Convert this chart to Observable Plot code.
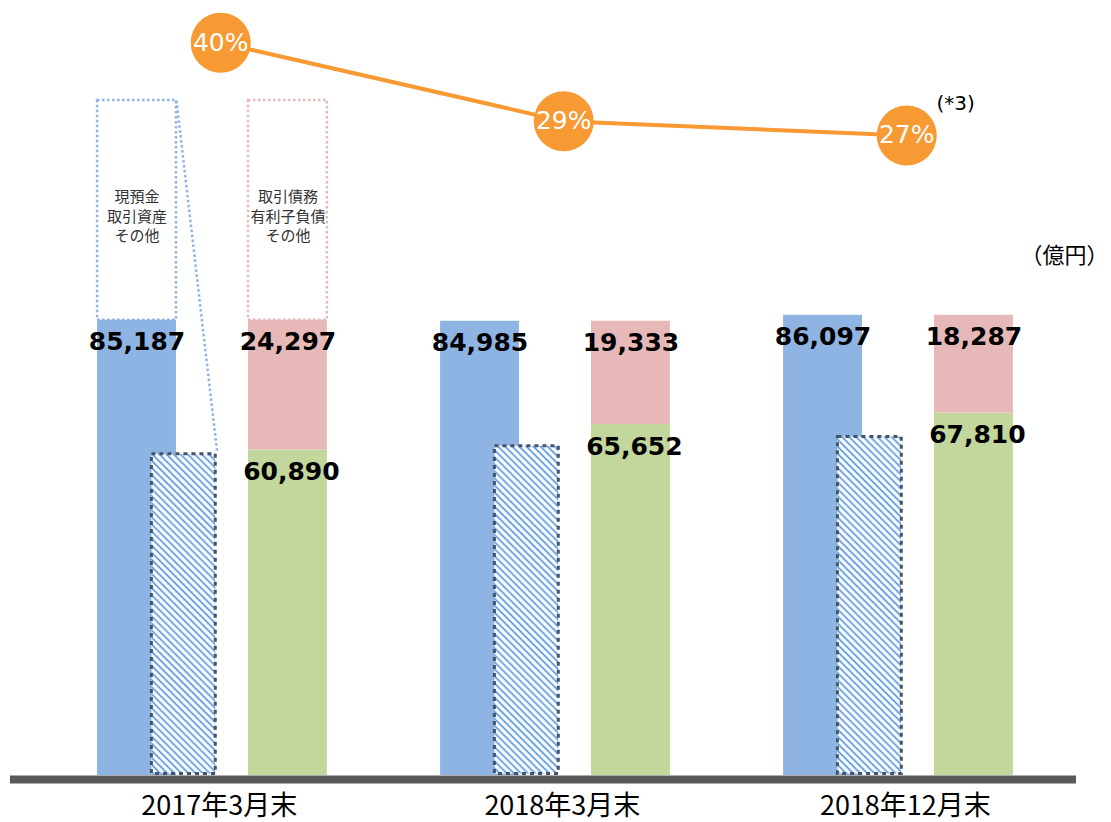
<!DOCTYPE html>
<html>
<head>
<meta charset="utf-8">
<script src="https://cdn.jsdelivr.net/npm/d3@7"></script>
<script src="https://cdn.jsdelivr.net/npm/@observablehq/plot@0.6"></script>
<style>
  html, body { margin: 0; padding: 0; background: #fff; }
  #wrap { position: relative; width: 1111px; height: 822px; overflow: hidden; }
  #wrap svg { position: absolute; left: 0; top: 0; overflow: visible; }
</style>
</head>
<body>
<div id="wrap"></div>
<script>
// ---- data ----
const periods = ["2017年3月末", "2018年3月末", "2018年12月末"];
const assets = [85187, 84985, 86097];          // 資産合計 (blue)
const hatched = [60400, 61900, 63600];         // hatched breakdown bar (unlabelled, estimated)
const payables = [24297, 19333, 18287];        // 取引債務・有利子負債その他 (pink)
const equity = [60890, 65652, 67810];          // green
const ratios = [40, 29, 27];                   // orange line (%)
const ratioLabels = ["40%", "29%", "27%"];
const assetNote = "現預金\n取引資産\nその他";
const liabNote = "取引債務\n有利子負債\nその他";
const noteTop = 126300;                        // top of the dotted legend boxes
const unitLabel = "（億円）";
const footnote = "(*3)";
const fmt = d3.format(",");

// ---- layout (group-relative offsets, in group units) ----
const BLUE = [-0.329, -0.099];
const HATCH = [-0.175, 0.020];
const LIAB = [0.111, 0.341];
const LINE_OFF = 0.03;
const LABEL_OFF = 0.026;

const rows = periods.map((p, i) => ({
  i, period: p, assets: assets[i], hatched: hatched[i],
  payables: payables[i], equity: equity[i], total: payables[i] + equity[i],
  ratio: ratios[i], ratioLabel: ratioLabels[i]
}));
const first = rows.slice(0, 1);

const xDomain = [-0.612, 2.627];
const jp = "'Noto Sans CJK JP', 'Noto Sans', sans-serif";
const dv = "'DejaVu Sans', Verdana, sans-serif";

const main = Plot.plot({
  width: 1111, height: 822,
  marginTop: 0, marginRight: 0, marginBottom: 47, marginLeft: 0,
  style: { background: "transparent", overflow: "visible" },
  x: { domain: xDomain, axis: null },
  y: { domain: [0, 145000], axis: null },
  marks: [
    // dotted legend boxes (2017 only)
    Plot.rect(first, { x1: d => d.i + BLUE[0], x2: d => d.i + BLUE[1], y1: d => d.assets, y2: noteTop,
      fill: "none", stroke: "#8EB4E3", strokeWidth: 2.5, strokeDasharray: "2.5 2.5" }),
    Plot.rect(first, { x1: d => d.i + LIAB[0], x2: d => d.i + LIAB[1], y1: d => d.total, y2: noteTop,
      fill: "none", stroke: "#E6B9B8", strokeWidth: 2.5, strokeDasharray: "2.5 2.5" }),
    Plot.text(first, { x: d => d.i + (BLUE[0] + BLUE[1]) / 2, y: 104800, text: () => assetNote,
      fontSize: 15, fill: "#333", fontFamily: jp, lineHeight: 1.32 }),
    Plot.text(first, { x: d => d.i + (LIAB[0] + LIAB[1]) / 2, y: 104800, text: () => liabNote,
      fontSize: 15, fill: "#333", fontFamily: jp, lineHeight: 1.32 }),
    // bars
    Plot.rect(rows, { x1: d => d.i + BLUE[0], x2: d => d.i + BLUE[1], y1: 0, y2: "assets", fill: "#8EB4E3" }),
    Plot.rect(rows, { x1: d => d.i + HATCH[0], x2: d => d.i + HATCH[1], y1: 0, y2: "hatched",
      fill: "url(#hatch)", stroke: "#44546A", strokeWidth: 3, strokeDasharray: "4 4", inset: 1.5 }),
    Plot.rect(rows, { x1: d => d.i + LIAB[0], x2: d => d.i + LIAB[1], y1: 0, y2: "equity", fill: "#C3D69B" }),
    Plot.rect(rows, { x1: d => d.i + LIAB[0], x2: d => d.i + LIAB[1], y1: "equity", y2: "total", fill: "#E6B9B8" }),
    // connector from legend box to hatched bar
    Plot.link(first, { x1: d => d.i + BLUE[1], y1: noteTop, x2: d => d.i + HATCH[1], y2: d => d.hatched,
      stroke: "#8EB4E3", strokeWidth: 2.5, strokeDasharray: "2.5 2.5" }),
    // baseline
    Plot.ruleY([0], { x1: -0.583, x2: 2.525, stroke: "#595959", strokeWidth: 8, dy: 4 }),
    // value labels
    Plot.text(rows, { x: d => d.i + (BLUE[0] + BLUE[1]) / 2, y: "assets", text: d => fmt(d.assets),
      dy: 22, fontSize: 25, fontWeight: "bold", fill: "#000", fontFamily: dv }),
    Plot.text(rows, { x: d => d.i + (LIAB[0] + LIAB[1]) / 2, y: "total", text: d => fmt(d.payables),
      dy: 22, fontSize: 25, fontWeight: "bold", fill: "#000", fontFamily: dv }),
    Plot.text(rows, { x: d => d.i + (LIAB[0] + LIAB[1]) / 2 + 0.01, y: "equity", text: d => fmt(d.equity),
      dy: 22, fontSize: 25, fontWeight: "bold", fill: "#000", fontFamily: dv }),
    // category labels
    Plot.text(rows, { x: d => d.i + LABEL_OFF, y: 0, text: "period", dy: 31, fontSize: 27, fill: "#000", fontFamily: jp }),
    // unit label
    Plot.text([unitLabel], { frameAnchor: "top-right", dy: 255, dx: -3, lineAnchor: "middle",
      fontSize: 22, fill: "#000", fontFamily: jp })
  ]
});

// hatch pattern
const defs = d3.select(main).insert("defs", ":first-child");
const pat = defs.append("pattern").attr("id", "hatch").attr("patternUnits", "userSpaceOnUse")
  .attr("width", 5).attr("height", 5).attr("patternTransform", "rotate(-45)");
pat.append("rect").attr("width", 5).attr("height", 5).attr("fill", "#fff");
pat.append("line").attr("x1", 1.5).attr("y1", 0).attr("x2", 1.5).attr("y2", 5)
  .attr("stroke", "#4A8FDB").attr("stroke-width", 1.6);

// ratio line overlay (own y scale)
const overlay = Plot.plot({
  width: 1111, height: 200,
  marginTop: 6.6, marginRight: 0, marginBottom: 15.1, marginLeft: 0,
  style: { background: "transparent", overflow: "visible" },
  x: { domain: xDomain, axis: null },
  y: { domain: [20, 45], axis: null },
  marks: [
    Plot.line(rows, { x: d => d.i + LINE_OFF, y: "ratio", stroke: "#F79A33", strokeWidth: 4 }),
    Plot.dot(rows, { x: d => d.i + LINE_OFF, y: "ratio", r: 30, fill: "#F79A33", stroke: "none" }),
    Plot.text(rows, { x: d => d.i + LINE_OFF, y: "ratio", text: "ratioLabel", fill: "#fff",
      fontSize: 25, fontFamily: dv }),
    Plot.text(rows.slice(2), { x: d => d.i + LINE_OFF, y: "ratio", text: () => footnote,
      dx: 49, dy: -32, fontSize: 20, fill: "#000", fontFamily: dv })
  ]
});

const wrap = document.getElementById("wrap");
wrap.appendChild(main);
wrap.appendChild(overlay);
</script>
</body>
</html>
